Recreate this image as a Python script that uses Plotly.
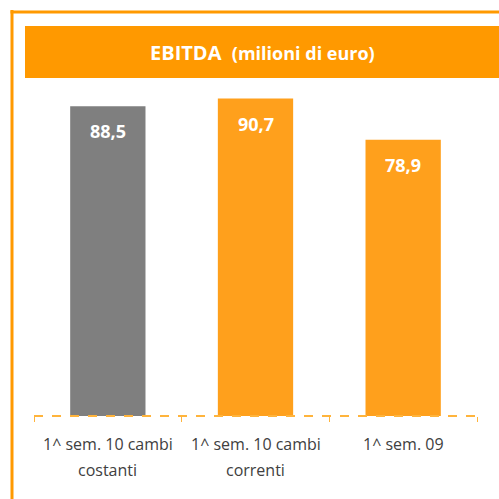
import plotly.graph_objects as go

# ---- data ----
categories = ["1^ sem. 10 cambi costanti", "1^ sem. 10 cambi correnti", "1^ sem. 09"]
label_lines = [["1^ sem. 10 cambi", "costanti"], ["1^ sem. 10 cambi", "correnti"], ["1^ sem. 09"]]
values = [88.5, 90.7, 78.9]
bar_colors = ["#7F7F7F", "#FFA01C", "#FFA01C"]
title_main = "EBITDA"
title_sub = "(milioni di euro)"

W = H = 499
ORANGE = "#FF9900"
AXIS = "rgb(255,180,60)"
FONT = "Open Sans"

def px_x(p):
    return p / W

def px_y(p):
    return 1 - p / H

fig = go.Figure()
fig.add_trace(go.Bar(
    x=categories, y=values,
    marker=dict(color=bar_colors, line=dict(width=0)),
    hoverinfo="skip",
))

annotations = []
# value labels
for c, v in zip(categories, values):
    annotations.append(dict(
        x=c, y=v, xref="x", yref="y", text=f"{v:.1f}".replace(".", ","),
        showarrow=False, yshift=-25,
        font=dict(family=FONT, size=18, color="white", weight="bold"),
    ))
# category labels
for c, lines in zip(categories, label_lines):
    for i, line in enumerate(lines):
        annotations.append(dict(
            x=c, y=0, xref="x", yref="y", text=line, showarrow=False,
            yshift=-28 - 26 * i,
            font=dict(family=FONT, size=16, color="#404040"),
        ))
# title
annotations.append(dict(
    x=px_x(262), y=px_y(52), xref="paper", yref="paper",
    text=f"<b>{title_main}</b>  <b><span style='font-size:18px'>{title_sub}</span></b>",
    showarrow=False, font=dict(family=FONT, size=20, color="white"),
    xanchor="center", yanchor="middle",
))

shapes = [
    # frame
    dict(type="line", xref="paper", yref="paper", x0=px_x(12), x1=px_x(12),
         y0=px_y(10), y1=0, line=dict(color=ORANGE, width=3)),
    dict(type="line", xref="paper", yref="paper", x0=px_x(10.5), x1=1,
         y0=px_y(12), y1=px_y(12), line=dict(color=ORANGE, width=3)),
    # title bar
    dict(type="rect", xref="paper", yref="paper", x0=px_x(25), x1=1,
         y0=px_y(78), y1=px_y(26), fillcolor=ORANGE, line=dict(width=0), layer="below"),
    # dashed axis line
    dict(type="line", xref="paper", yref="paper", x0=px_x(34), x1=px_x(477),
         y0=px_y(416), y1=px_y(416), layer="above",
         line=dict(color=AXIS, width=2, dash="dash")),
]

fig.update_layout(
    width=W, height=H,
    margin=dict(l=0, r=0, t=0, b=0),
    paper_bgcolor="white", plot_bgcolor="white",
    showlegend=False,
    bargap=0.49,
    annotations=annotations,
    shapes=shapes,
    xaxis=dict(domain=[px_x(34), px_x(477)], range=[-0.5, 2.5],
               showticklabels=False, showgrid=False, zeroline=False, showline=False,
               ticks="outside", tickson="boundaries", ticklen=5, tickcolor=AXIS,
               tickwidth=1, fixedrange=True),
    yaxis=dict(domain=[px_y(416), px_y(94)], range=[0, 92], visible=False,
               showgrid=False, zeroline=False, fixedrange=True),
)

fig.write_html("out.html", config={"displayModeBar": False},
               post_script="document.body.style.margin='0';")
